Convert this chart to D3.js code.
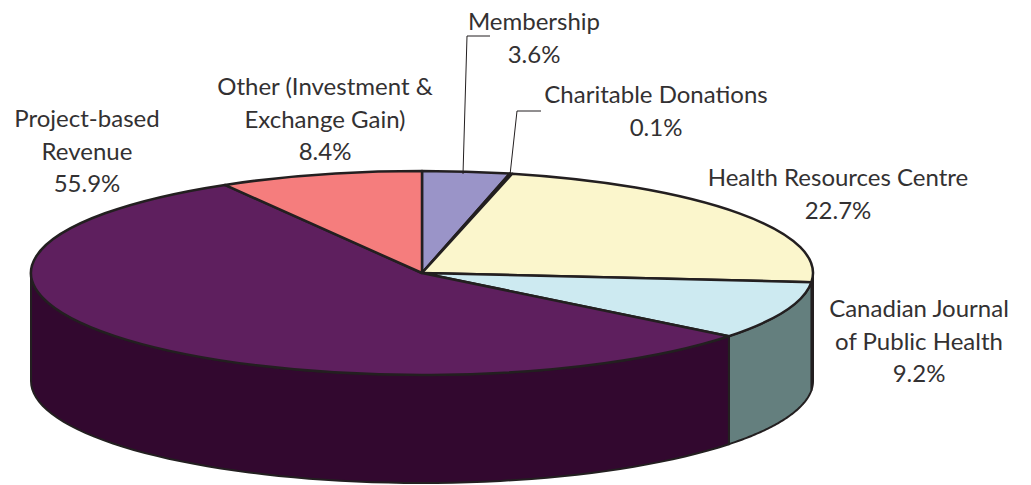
<!DOCTYPE html>
<html>
<head>
<meta charset="utf-8">
<script src="https://cdn.jsdelivr.net/npm/d3@7"></script>
<style>
  html, body { margin: 0; padding: 0; background: #fff; }
  text { font-family: "Lato", sans-serif; font-size: 24px; fill: #333132; text-anchor: middle; }
</style>
</head>
<body>
<div class="pie-chart"></div>
<script>
var categories = ["Membership", "Charitable Donations", "Health Resources Centre",
  "Canadian Journal of Public Health", "Project-based Revenue", "Other (Investment & Exchange Gain)"];
var values = [3.6, 0.1, 22.7, 9.2, 55.9, 8.4];
var topColors = ["#9a94c8", "#8b2a6c", "#fbf6cc", "#cdeaf1", "#5e1f5e", "#f57d7d"];
var sideColors = ["#6b6790", "#5c1c48", "#a8a488", "#647f7e", "#32082f", "#a85656"];
var labelLines = [
  ["Membership", "3.6%"],
  ["Charitable Donations", "0.1%"],
  ["Health Resources Centre", "22.7%"],
  ["Canadian Journal", "of Public Health", "9.2%"],
  ["Project-based", "Revenue", "55.9%"],
  ["Other (Investment &", "Exchange Gain)", "8.4%"]
];

var w = 1031, h = 485;
var cx = 422, cy = 273, rx = 391, ry = 102, depth = 108;
var lineColor = "#231f20";

// where each label sits: centre x, first baseline y
var labelPos = [[534, 30], [656, 103], [838, 186], [919, 317], [87, 127], [325, 95]];
// leader lines for the two thin slices
var leaders = [
  { slice: 0, points: [[490, 36], [467, 36], [463, 174]] },
  { slice: 1, points: [[541, 111], [517, 111], [510, 175]] }
];

var svg = d3.select(".pie-chart")
            .append("svg")
            .attr("width", w)
            .attr("height", h)
            .style("display", "block");

var slices = d3.pie().sort(null)(values);

function px(a) { return cx + rx * Math.sin(a); }
function py(a) { return cy - ry * Math.cos(a); }

/**
 * Side walls: only the front half of the pie shows (angles PI/2 to 3PI/2)
 */
function wallPath(a0, a1) {
  var n = 60, top = [], bottom = [];
  d3.range(n + 1).forEach(function(i) {
    var a = a0 + (a1 - a0) * i / n;
    top.push([px(a), py(a)]);
    bottom.unshift([px(a), py(a) + depth]);
  });
  return d3.line()(top.concat(bottom)) + "Z";
}

var walls = svg.append("g");
slices.forEach(function(d) {
  var a0 = Math.max(d.startAngle, Math.PI / 2);
  var a1 = Math.min(d.endAngle, 3 * Math.PI / 2);
  if (a1 <= a0) return;
  walls.append("path")
       .attr("d", wallPath(a0, a1))
       .attr("fill", sideColors[d.index])
       .attr("stroke", lineColor)
       .attr("stroke-width", 2)
       .attr("stroke-linejoin", "round");
});

/**
 * Top face, a normal d3 arc squashed into an ellipse
 */
var arc = d3.arc().innerRadius(0).outerRadius(rx);

svg.append("g")
   .attr("transform", "translate(" + cx + "," + cy + ") scale(1," + (ry / rx) + ")")
   .selectAll("path")
   .data(slices)
   .enter()
   .append("path")
   .attr("d", arc)
   .attr("fill", function(d) { return topColors[d.index]; })
   .attr("stroke", lineColor)
   .attr("stroke-width", 2.5)
   .attr("stroke-linejoin", "round")
   .attr("vector-effect", "non-scaling-stroke");

/**
 * Leaders and labels
 */
svg.append("g")
   .selectAll("path")
   .data(leaders)
   .enter()
   .append("path")
   .attr("d", function(d) { return d3.line()(d.points); })
   .attr("fill", "none")
   .attr("stroke", lineColor)
   .attr("stroke-width", 1);

var labels = svg.append("g")
   .selectAll("text")
   .data(categories)
   .enter()
   .append("text")
   .attr("x", function(d, i) { return labelPos[i][0]; })
   .attr("y", function(d, i) { return labelPos[i][1]; });

labels.selectAll("tspan")
   .data(function(d, i) { return labelLines[i].map(function(t, j) { return { t: t, x: labelPos[i][0], j: j }; }); })
   .enter()
   .append("tspan")
   .attr("x", function(d) { return d.x; })
   .attr("dy", function(d) { return d.j ? 32.5 : 0; })
   .text(function(d) { return d.t; });
</script>
</body>
</html>
